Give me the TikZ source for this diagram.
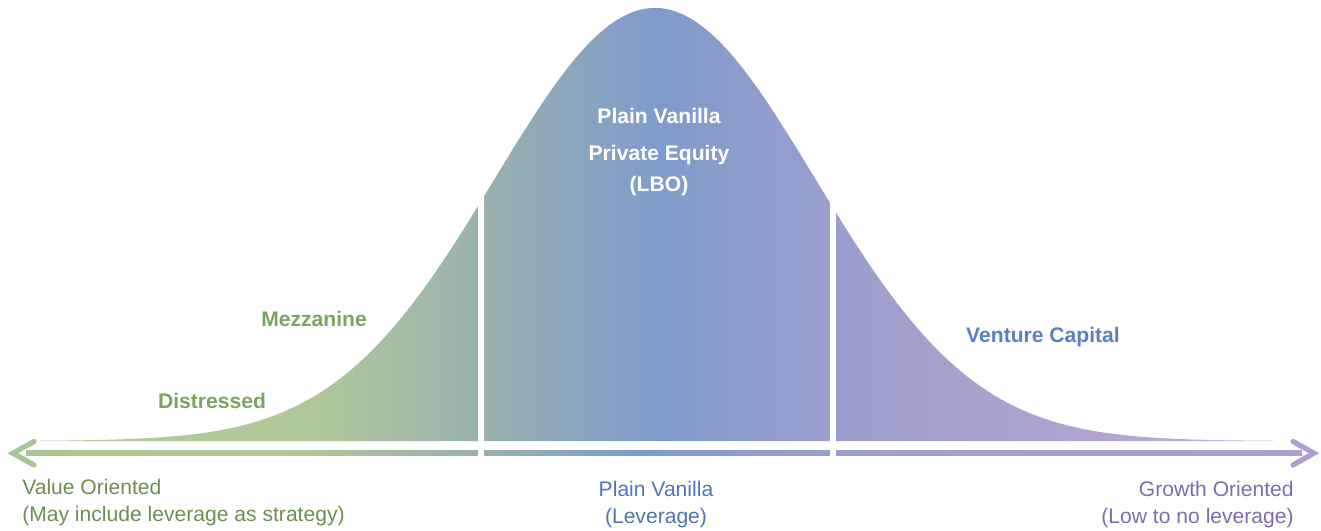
\documentclass[tikz,border=0pt]{standalone}
\usepackage{fontspec}
\setmainfont{Liberation Sans}
\usetikzlibrary{arrows.meta}

\definecolor{bellA}{HTML}{B1C89A}
\definecolor{bellB}{HTML}{98B1AE}
\definecolor{bellC}{HTML}{7F9BCB}
\definecolor{bellD}{HTML}{9A9FCC}
\definecolor{bellE}{HTML}{B3A4CF}
\definecolor{bellF}{HTML}{C2B6DA}
\definecolor{tipgreen}{HTML}{A8C597}
\definecolor{tippurple}{HTML}{AE9FD0}
\definecolor{lblgreen}{HTML}{7BA55E}
\definecolor{lblblue}{HTML}{5B7FC0}
\definecolor{valgreen}{HTML}{6B8F4E}
\definecolor{vanblue}{HTML}{4F74B8}
\definecolor{growpurple}{HTML}{7F6BB3}

\pgfdeclarehorizontalshading{bellshade}{100bp}{color(0bp)=(bellA); color(25bp)=(bellA); color(36bp)=(bellA); color(43bp)=(bellB); color(50bp)=(bellC); color(57bp)=(bellD); color(68bp)=(bellE); color(75bp)=(bellF); color(100bp)=(bellF)}
\pgfdeclarehorizontalshading{axisshade}{100bp}{color(0bp)=(tipgreen); color(25bp)=(tipgreen); color(35bp)=(bellA); color(43bp)=(bellB); color(49bp)=(bellC); color(56bp)=(bellD); color(75bp)=(tippurple); color(100bp)=(tippurple)}

\begin{document}
\begin{tikzpicture}[x=0.025cm,y=-0.025cm,
	boldtxt/.style={font=\fontsize{15}{22}\selectfont\bfseries,inner sep=0pt,anchor=base},
	plaintxt/.style={font=\fontsize{15}{19.2}\selectfont,inner sep=0pt},
	gapline/.style={draw=white,line width=0.15cm},
	tipline/.style={line width=0.13cm,line cap=round,line join=miter}]
	\useasboundingbox (0,0) rectangle (1321,531);
	
	\shade[shading=bellshade] (40,441) -- plot[domain=40:1275,samples=160,smooth] (\x,{441-433*exp(-0.5*((\x-655)/160)^2)}) -- (1275,441) -- cycle;
	
	\shade[shading=axisshade] (26,450.6) rectangle (1302,455.9);
	\draw[tipline,draw=tipgreen] (34,441.5) -- (13,453.2) -- (34,465);
	\draw[tipline,draw=tippurple] (1293,441.5) -- (1314,453.2) -- (1293,465);
	
	\draw[gapline] (481,150) -- (481,462);
	\draw[gapline] (833,150) -- (833,462);
	
	\node[boldtxt,text=white] (pv) at (659,124) {Plain Vanilla};
	\node[boldtxt,text=white,align=center,anchor=base] (lbo) at (659,191.5) {Private Equity\\(LBO)};
	\node[boldtxt,text=lblgreen] (mezz) at (314,326.5) {Mezzanine};
	\node[boldtxt,text=lblgreen] (dist) at (212,408.3) {Distressed};
	\node[boldtxt,text=lblblue] (vc) at (1043,342) {Venture Capital};
	
	\node[plaintxt,text=valgreen,align=left,anchor=north west] (value) at (22,479) {Value Oriented\\(May include leverage as strategy)};
	\node[plaintxt,text=vanblue,align=center,anchor=north] (lev) at (656,481) {Plain Vanilla\\(Leverage)};
	\node[plaintxt,text=growpurple,align=right,anchor=north east] (growth) at (1294,481) {Growth Oriented\\(Low to no leverage)};
\end{tikzpicture}
\end{document}
